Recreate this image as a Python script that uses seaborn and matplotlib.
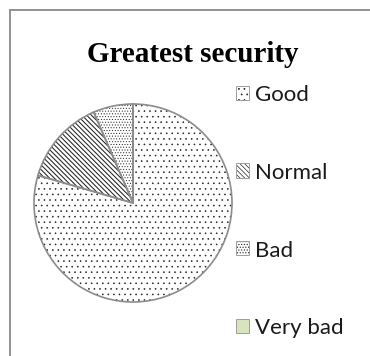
import matplotlib
matplotlib.use("Agg")
import matplotlib.pyplot as plt
import seaborn as sns
from matplotlib.patches import Patch, Rectangle
from matplotlib.lines import Line2D

# Survey answers for "greatest security"
categories = ["Good", "Normal", "Bad", "Very bad"]
shares = [79.5, 14.0, 6.5, 0.0]
hatches = ["...", "\\" * 7, "......", ""]
hatch_widths = [0.4, 0.75, 0.4, 0.5]
fills = ["white", "white", "white", "#d7e4bd"]
title = "Greatest security"

sns.set_theme(style="white")
plt.rcParams["font.family"] = ["Lato", "DejaVu Sans"]
plt.rcParams["hatch.linewidth"] = 0.5

W, H = 370, 356
fig = plt.figure(figsize=(W / 100, H / 100), dpi=100)
fig.patch.set_facecolor("white")


def style_hatch(patch, hatch, lw):
    patch.set_hatch(hatch)
    if hasattr(patch, "set_hatch_linewidth"):
        patch.set_hatch_linewidth(lw)


# pie placed in pixel terms: centre and radius
cx, cy, r = 133, 203, 99
pad = 1.02
ax = fig.add_axes([(cx - r * pad) / W, (H - cy - r * pad) / H,
                   2 * r * pad / W, 2 * r * pad / H])

wedges, _ = ax.pie(shares, startangle=90, counterclock=False, colors=fills,
                   wedgeprops=dict(linewidth=0, edgecolor="#222222"))
for w, h, lw in zip(wedges, hatches, hatch_widths):
    style_hatch(w, h, lw)
# outline pass on top of the hatched fills
ax.pie(shares, startangle=90, counterclock=False, colors=["none"] * 4,
       wedgeprops=dict(linewidth=1.2, edgecolor="#8c8c8c"))
ax.set_xlim(-pad, pad)
ax.set_ylim(-pad, pad)
ax.set_aspect("equal")

# title
fig.text(193 / W, 1 - 62 / H, title, ha="center", va="baseline",
         fontfamily="Liberation Serif", fontweight="bold", fontsize=21,
         color="black")

# legend
fs = 16
fs_px = fs * 100 / 72
handles = [Patch(facecolor=f, edgecolor="#222222", linewidth=0) for f in fills]
for p, h, lw in zip(handles, hatches, hatch_widths):
    style_hatch(p, h, lw)
leg = fig.legend(handles, categories, loc="upper left",
                 bbox_to_anchor=(237 / W, 1 - 85 / H), bbox_transform=fig.transFigure,
                 frameon=False, fontsize=fs, borderpad=0, borderaxespad=0,
                 handlelength=12 / fs_px, handleheight=12 / fs_px,
                 handletextpad=6 / fs_px, labelspacing=2.6)
for t in leg.get_texts():
    t.set_color("#1a1a1a")

# grey outline around the legend keys
fig.canvas.draw()
for p in leg.get_patches():
    ext = p.get_window_extent()
    fig.add_artist(Rectangle((ext.x0 / W, ext.y0 / H), ext.width / W, ext.height / H,
                             transform=fig.transFigure, fill=False,
                             edgecolor="#8c8c8c", linewidth=1.2))

# chart-area frame: top and left edges
fx, fy = 9.5 / W, 1 - 9.5 / H
fig.add_artist(Line2D([fx, 1.0], [fy, fy], transform=fig.transFigure,
                      color="#8a8a8a", linewidth=1.3))
fig.add_artist(Line2D([fx, fx], [0.0, fy], transform=fig.transFigure,
                      color="#8a8a8a", linewidth=1.3))

fig.savefig("out.png", dpi=100, facecolor="white")
